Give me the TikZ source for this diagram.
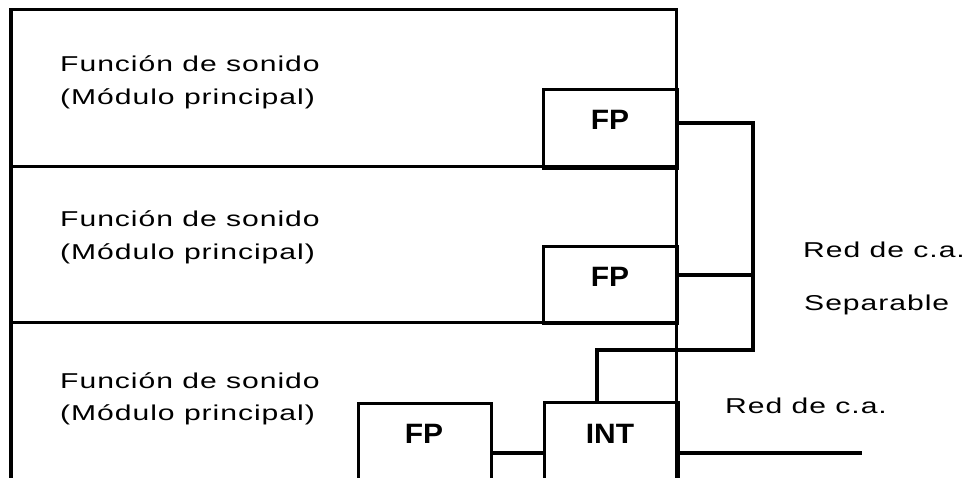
\documentclass[tikz,border=0pt]{standalone}
\usepackage{fontspec}
\setmainfont{Liberation Sans}[FakeStretch=1.4,LetterSpace=4.5]
\newfontfamily\boxfont{Liberation Sans}[FakeStretch=1.07]
\usetikzlibrary{positioning}

\begin{document}
\begin{tikzpicture}[x=1pt,y=-1pt,
  wall/.style={line width=3pt},
  wire/.style={line width=4.5pt},
  unit/.style={draw,line width=3pt,anchor=north west,inner sep=0,minimum width=134pt},
  txt/.style={font=\fontsize{21.5}{24}\selectfont,inner sep=0,anchor=base west},
  tag/.style={font=\boxfont\bfseries\fontsize{28}{32}\selectfont,inner sep=0,anchor=base}]
\useasboundingbox (0,0) rectangle (974,478);

% Cabinet with three modules
\draw[wall] (11,478) -- (11,10) -- (676,10) -- (676,478);
\draw[line width=4.5pt] (11,478) -- (11,8.5);
\draw[wall] (11,167) -- (676,167);
\draw[wall] (11,322) -- (676,322);

% Labels
\foreach \n/\y in {1/72,2/227,3/388} {
    \node[txt] (fun\n) at (60,\y) {Función de sonido};
    \node[txt] (mod\n) at (60,\y+32.5) {(Módulo principal)};
}

% Units
\node[unit, minimum height=79pt] (fp1) at (542,88) {};
\node[unit, minimum height=77pt] (fp2) at (542,245) {};
\node[unit, minimum width=133pt, minimum height=90pt] (fp3) at (357,402) {};
\node[unit, minimum height=90pt] (int) at (542.5,400.5) {};

\node[tag] (fp1t) at (610,129.5) {FP};
\node[tag] (fp2t) at (610,286.5) {FP};
\node[tag] (fp3t) at (424,443.3) {FP};
\node[tag] (intt) at (610,443.3) {INT};

% Wiring
\coordinate (bus) at (753,350);
\coordinate (drop) at (597,350);
\coordinate (mains) at (862,453);
\draw[wire] ([yshift=6pt]fp1.east) -| (bus) -- (drop) -- (drop |- int.north);
\draw[wire] ([yshift=10pt]fp2.east) -- ([yshift=10pt]fp2.east -| bus);
\draw[wire] (fp3.east |- mains) -- (int.west |- mains);
\draw[wire] (int.east |- mains) -- (mains);

\node[txt] (sep1) at (803,258) {Red de c.a.};
\node[txt] (sep2) at (804,310) {Separable};
\node[txt] (red) at (725,413) {Red de c.a.};
\end{tikzpicture}
\end{document}
